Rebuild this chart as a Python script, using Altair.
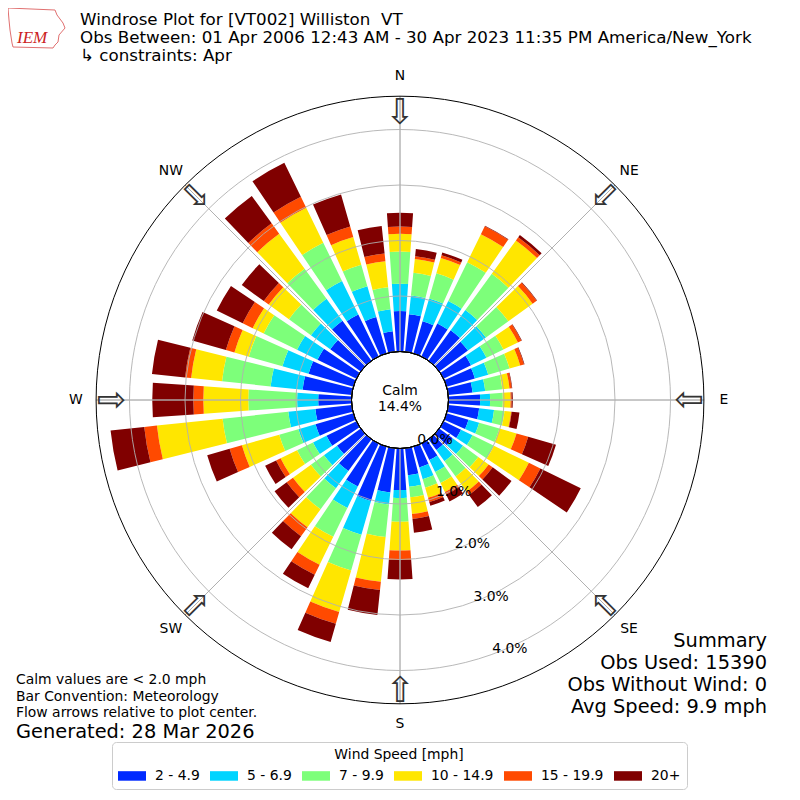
import math
import altair as alt
import pandas as pd

# ---------------- data ----------------
directions = list(range(0, 360, 10))
speed_labels = ["2 - 4.9", "5 - 6.9", "7 - 9.9", "10 - 14.9", "15 - 19.9", "20+"]
speed_colors = ["#002aff", "#00d4ff", "#7dff7a", "#ffe600", "#ff4a00", "#800000"]

# percent frequency per direction (0,10,...,350 deg) for each speed bin
spd_2_5 = [0.73, 0.68, 0.60, 0.66, 0.68, 0.64, 0.55, 0.53, 0.44, 0.57, 0.56, 0.41,
           0.35, 0.30, 0.24, 0.33, 0.39, 0.49, 0.75, 0.80, 1.02, 0.86, 0.71, 0.53,
           0.60, 0.71, 0.66, 0.60, 0.89, 0.84, 0.78, 0.68, 0.89, 0.84, 0.68, 0.37]
spd_5_7 = [0.49, 0.34, 0.43, 0.45, 0.45, 0.40, 0.31, 0.25, 0.23, 0.18, 0.27, 0.20,
           0.23, 0.23, 0.25, 0.24, 0.22, 0.21, 0.14, 0.22, 0.63, 0.43, 0.38, 0.29,
           0.27, 0.32, 0.49, 0.38, 0.58, 0.49, 0.41, 0.43, 0.49, 0.67, 0.58, 0.40]
spd_7_10 = [0.58, 0.41, 0.47, 0.78, 0.81, 0.50, 0.34, 0.40, 0.31, 0.23, 0.19, 0.38,
            0.43, 0.34, 0.34, 0.22, 0.16, 0.19, 0.43, 0.59, 0.67, 0.58, 0.47, 0.29,
            0.32, 0.36, 1.19, 0.88, 0.88, 0.63, 0.67, 0.49, 0.67, 0.77, 0.40, 0.40]
spd_10_15 = [0.32, 0.25, 0.29, 0.56, 0.74, 0.54, 0.29, 0.20, 0.13, 0.14, 0.12, 0.32,
             0.70, 0.23, 0.34, 0.18, 0.19, 0.30, 0.52, 0.81, 0.78, 0.56, 0.40, 0.40,
             0.33, 0.70, 1.19, 0.81, 0.56, 0.27, 0.22, 0.45, 0.78, 0.70, 0.52, 0.47]
spd_15_20 = [0.13, 0.05, 0.05, 0.16, 0.07, 0.09, 0.07, 0.07, 0.04, 0.02, 0.01, 0.22,
             0.23, 0.09, 0.07, 0.05, 0.08, 0.09, 0.17, 0.15, 0.22, 0.20, 0.20, 0.14,
             0.09, 0.23, 0.23, 0.18, 0.11, 0.16, 0.20, 0.11, 0.23, 0.22, 0.20, 0.14]
spd_20p = [0.25, 0.13, 0.05, 0.01, 0.05, 0.01, 0.01, 0.01, 0.01, 0.02, 0.14, 0.52,
           0.81, 0.42, 0.27, 0.14, 0.07, 0.25, 0.35, 0.45, 0.34, 0.27, 0.29, 0.27,
           0.22, 0.42, 0.61, 0.74, 0.60, 0.63, 0.52, 0.49, 0.61, 0.68, 0.60, 0.50]
series = [spd_2_5, spd_5_7, spd_7_10, spd_10_15, spd_15_20, spd_20p]

grid_pct = [0, 1, 2, 3, 4]
grid_labels = ["0.0%", "1.0%", "2.0%", "3.0%", "4.0%"]
compass_names = ["N", "NE", "E", "SE", "S", "SW", "W", "NW"]
compass_deg = [0, 45, 90, 135, 180, 225, 270, 315]
calm_pct = 14.4

title_lines = ["Windrose Plot for [VT002] Williston \u00a0VT",
               "Obs Between: 01 Apr 2006 12:43 AM - 30 Apr 2023 11:35 PM America/New_York",
               "\u00a0\u21b3 constraints: Apr"]
footer_lines = ["Calm values are < 2.0 mph", "Bar Convention: Meteorology",
                "Flow arrows relative to plot center."]
generated_line = "Generated: 28 Mar 2026"
summary_lines = ["Summary", "Obs Used: 15390", "Obs Without Wind: 0", "Avg Speed: 9.9 mph"]

# logo outline (decoration, pixel coordinates)
logo_x = [0, 47, 49, 55, 57, 51, 50, 47, 45, 5, 4, 2, 1, 0]
logo_y = [0, 2, 7, 15, 20, 27, 34, 37, 40, 39, 35, 22, 12, 0]

# ---------------- layout constants ----------------
FONT = "DejaVu Sans"
R_MAX = 4.6           # outer circle in percent units
HALF_W = 4.0          # half bar width (deg)
theta_scale = alt.Scale(domain=[0, 360], range=[0, 2 * math.pi], nice=False, zero=False)
r_scale = alt.Scale(type="linear", domain=[0, R_MAX], range=[48.5, 303.8], nice=False, zero=False)

# ---------------- tables ----------------
rows = []
for i, d in enumerate(directions):
    cum = 0.0
    for k, lab in enumerate(speed_labels):
        v = series[k][i]
        rows.append({"dir": d, "t0": d - HALF_W, "t1": d + HALF_W,
                     "c0": cum, "c1": cum + v, "speed": lab})
        cum += v
bar_df = pd.DataFrame(rows)

bars = alt.Chart(bar_df).mark_arc().encode(
    theta=alt.Theta("t0:Q", scale=theta_scale, stack=False),
    theta2="t1:Q",
    radius=alt.Radius("c1:Q", scale=r_scale, stack=False),
    radius2="c0:Q",
    color=alt.Color("speed:N",
                    scale=alt.Scale(domain=speed_labels, range=speed_colors),
                    legend=alt.Legend(title="Wind Speed [mph]", orient="none",
                                      legendX=104, legendY=734,
                                      direction="horizontal", columns=6,
                                      symbolType="M-1,-0.34H1V0.34H-1Z",
                                      symbolSize=784, symbolStrokeWidth=0,
                                      symbolOpacity=1,
                                      labelFont=FONT, labelFontSize=13.9,
                                      labelColor="black", labelOffset=9,
                                      titleFont=FONT, titleFontSize=13.9,
                                      titleFontWeight="normal", titleColor="black",
                                      titleAnchor="middle", titlePadding=0,
                                      padding=6, columnPadding=10,
                                      strokeColor="#cccccc", cornerRadius=4,
                                      fillColor="white")),
)

ring_df = pd.DataFrame({"v": grid_pct[1:], "a0": 0, "a1": 360})
rings = alt.Chart(ring_df).mark_arc(fillOpacity=0, stroke="#b0b0b0", strokeWidth=0.9).encode(
    theta=alt.Theta("a0:Q", scale=theta_scale, stack=False), theta2="a1:Q",
    radius=alt.Radius("v:Q", scale=r_scale, stack=False),
)

spoke_df = pd.DataFrame({"a": compass_deg, "r0": 0.0, "r1": R_MAX})
spokes = alt.Chart(spoke_df).mark_arc(fillOpacity=0, stroke="#b0b0b0", strokeWidth=0.9).encode(
    theta=alt.Theta("a:Q", scale=theta_scale, stack=False), theta2="a:Q",
    radius=alt.Radius("r1:Q", scale=r_scale, stack=False), radius2="r0:Q",
)

edge_df = pd.DataFrame({"v": [0.0, R_MAX], "a0": 0, "a1": 360})
edges = alt.Chart(edge_df).mark_arc(fillOpacity=0, stroke="black", strokeWidth=1).encode(
    theta=alt.Theta("a0:Q", scale=theta_scale, stack=False), theta2="a1:Q",
    radius=alt.Radius("v:Q", scale=r_scale, stack=False),
)

rlab_df = pd.DataFrame({"v": grid_pct, "txt": grid_labels, "ang": 160.3})
rlabels = alt.Chart(rlab_df).mark_text(font=FONT, fontSize=13.9, color="black",
                                        dx=18.6, dy=-5.8, baseline="middle").encode(
    theta=alt.Theta("ang:Q", scale=theta_scale, stack=False),
    radius=alt.Radius("v:Q", scale=r_scale, stack=False),
    text="txt:N",
)

comp_df = pd.DataFrame({"name": compass_names, "deg": compass_deg, "r": 4.964})
clabels = alt.Chart(comp_df).mark_text(font=FONT, fontSize=13.9, color="black",
                                        baseline="middle").encode(
    theta=alt.Theta("deg:Q", scale=theta_scale, stack=False),
    radius=alt.Radius("r:Q", scale=r_scale, stack=False),
    text="name:N",
)

arrow_df = pd.DataFrame({"deg": compass_deg, "r": 4.37,
                         "rot": [(d + 180) % 360 for d in compass_deg],
                         "sym": "\u21e7"})
arrows = alt.Chart(arrow_df).mark_text(font=FONT, fontSize=35, color="#333333",
                                       baseline="middle").encode(
    theta=alt.Theta("deg:Q", scale=theta_scale, stack=False),
    radius=alt.Radius("r:Q", scale=r_scale, stack=False),
    angle=alt.Angle("rot:Q", scale=None),
    text="sym:N",
)

calm_df = pd.DataFrame({"txt": ["Calm", f"{calm_pct:.1f}%"], "y": [383, 399]})
calm = alt.Chart(calm_df).mark_text(font=FONT, fontSize=13.9, color="black",
                                    baseline="middle").encode(
    x=alt.value(392), y=alt.Y("y:Q", scale=None), text="txt:N",
)

title_df = pd.DataFrame({"txt": title_lines, "y": [17, 35, 53]})
titles = alt.Chart(title_df).mark_text(font=FONT, fontSize=16.7, color="black",
                                       align="left", baseline="alphabetic").encode(
    x=alt.value(72), y=alt.Y("y:Q", scale=None), text="txt:N",
)

foot_df = pd.DataFrame({"txt": footer_lines, "y": [676, 693, 709]})
foot = alt.Chart(foot_df).mark_text(font=FONT, fontSize=13.9, color="black",
                                    align="left", baseline="alphabetic").encode(
    x=alt.value(8), y=alt.Y("y:Q", scale=None), text="txt:N",
)
gen_df = pd.DataFrame({"txt": [generated_line], "y": [730]})
gen = alt.Chart(gen_df).mark_text(font=FONT, fontSize=19.4, color="black",
                                  align="left", baseline="alphabetic").encode(
    x=alt.value(8), y=alt.Y("y:Q", scale=None), text="txt:N",
)

sum_df = pd.DataFrame({"txt": summary_lines, "y": [639, 661, 683, 705]})
summ = alt.Chart(sum_df).mark_text(font=FONT, fontSize=19.4, color="black",
                                   align="right", baseline="alphabetic").encode(
    x=alt.value(759), y=alt.Y("y:Q", scale=None), text="txt:N",
)

logo_df = pd.DataFrame({"txt": ["IEM"], "y": [35]})
logo = alt.Chart(logo_df).mark_text(font="Liberation Serif", fontSize=17, fontStyle="italic",
                                    color="#cc2222", align="left",
                                    baseline="alphabetic").encode(
    x=alt.value(9), y=alt.Y("y:Q", scale=None), text="txt:N",
)
outline_df = pd.DataFrame({"lx": logo_x, "ly": logo_y, "i": list(range(len(logo_x)))})
outline = alt.Chart(outline_df).mark_line(color="#e07070", strokeWidth=1).encode(
    x=alt.X("lx:Q", scale=None), y=alt.Y("ly:Q", scale=None), order="i:Q",
)

chart = alt.layer(
    bars, rings, spokes, edges, rlabels, clabels, arrows, calm,
    titles, foot, gen, summ, outline, logo,
).properties(
    width=784, height=784, padding=0,
    autosize=alt.AutoSizeParams(type="none"),
    background="white",
).configure_view(strokeWidth=0)

chart.save("out.html", embed_options={"renderer": "svg", "actions": False})
